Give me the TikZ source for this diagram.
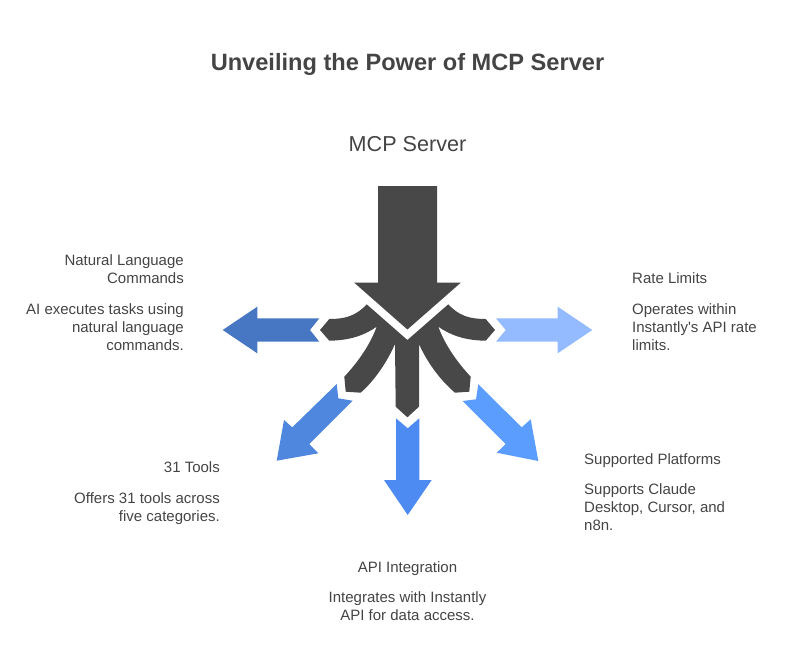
\documentclass[tikz,border=0pt]{standalone}
\usepackage{fontspec}
\setmainfont{Liberation Sans}[Ligatures=TeXOff]
\definecolor{ink}{HTML}{444444}
\definecolor{hub}{HTML}{484848}
\definecolor{armL}{HTML}{4776C3}
\definecolor{armLL}{HTML}{4F87DF}
\definecolor{armB}{HTML}{4D8BF2}
\definecolor{armLR}{HTML}{5B9DFF}
\definecolor{armR}{HTML}{94BBFF}
\tikzset{
  lbl/.style={text=ink,font=\fontsize{15}{18}\selectfont,inner sep=0pt,anchor=#1},
  lbl/.default=center,
  lblr/.style={lbl=north east,align=right},
  lbll/.style={lbl=north west,align=left},
  lblc/.style={lbl=north,align=center}
}
\begin{document}
\begin{tikzpicture}[x=1pt,y=-1pt]
\useasboundingbox (0,0) rectangle (785,672);
% title
\node[text=ink,font=\fontsize{23.6}{28}\selectfont\bfseries,inner sep=0pt] (title) at (407.5,64.5) {Unveiling the Power of MCP Server};
\node[text=ink,font=\fontsize{21.6}{26}\selectfont,inner sep=0pt] (mcp) at (407.5,144) {MCP Server};
% big arrow
\fill[hub] (378,186) -- (437,186) -- (437,282.5) -- (461,282.5) -- (407.4,329.5) -- (354,282.5) -- (378,282.5) -- cycle;
% prongs
\fill[hub] (407.4,340) -- (366.7,304.3)
  .. controls (356,316) and (345,319) .. (329.3,319)
  -- (320,330) -- (329.3,340.7)
  .. controls (350,340.5) and (365,335) .. (376.7,326.7)
  .. controls (370,345) and (358,362) .. (344.3,376.7)
  -- (345.7,391.7) -- (360.7,392.7)
  .. controls (375,380) and (387,362) .. (395,344)
  -- (395.7,406.7) -- (407.4,417.3) -- (419,406.7) -- (419,344)
  .. controls (427,362) and (440,380) .. (455,392.7)
  -- (469.3,391.7) -- (470.7,376.7)
  .. controls (457,362) and (445,345) .. (438.3,326.7)
  .. controls (450,335) and (465,340.5) .. (485.7,340.7)
  -- (495,330) -- (485.7,319)
  .. controls (470,319) and (459,316) .. (448.3,304.3)
  -- cycle;
% blue arrows
\fill[armL] (222.7,330) -- (257.3,306.7) -- (257.3,318.3) -- (319.3,318.3) -- (310,330) -- (319.3,341.7) -- (257.3,341.7) -- (257.3,353.3) -- cycle;
\fill[armLL] (276.7,460.7) -- (284,420) -- (292.3,427.3) -- (336.7,384) -- (338.3,398.3) -- (352.7,400.7) -- (309.3,444) -- (318.3,453.3) -- cycle;
\fill[armB] (396,418.3) -- (407.7,428.3) -- (419.3,418.3) -- (419.3,480) -- (431.7,480) -- (407.7,515) -- (384,480) -- (396,480) -- cycle;
\fill[armLR] (478.3,384.3) -- (521.7,427.3) -- (530.7,419.3) -- (538.3,461) -- (496.7,452.7) -- (505.7,444) -- (462.7,401) -- (476,399.3) -- cycle;
\fill[armR] (496,318.3) -- (557.7,318.3) -- (557.7,306.7) -- (592.3,330) -- (557.7,353.3) -- (557.7,341.7) -- (496,341.7) -- (505.7,330) -- cycle;
% labels
\node[lblr] (nlh) at (184,254.5) {Natural Language\\Commands};
\node[lblr] (nlb) at (184,303.5) {AI executes tasks using\\natural language\\commands.};
\node[lbll] (rlh) at (632,272.5) {Rate Limits};
\node[lbll] (rlb) at (632,303.5) {Operates within\\Instantly's API rate\\limits.};
\node[lblr] (tth) at (220,461.5) {31 Tools};
\node[lblr] (ttb) at (220,492.5) {Offers 31 tools across\\five categories.};
\node[lblc] (aih) at (407.5,561.5) {API Integration};
\node[lblc] (aib) at (407.5,591.5) {Integrates with Instantly\\API for data access.};
\node[lbll] (sph) at (584,453.5) {Supported Platforms};
\node[lbll] (spb) at (584,483.5) {Supports Claude\\Desktop, Cursor, and\\n8n.};
\end{tikzpicture}
\end{document}
